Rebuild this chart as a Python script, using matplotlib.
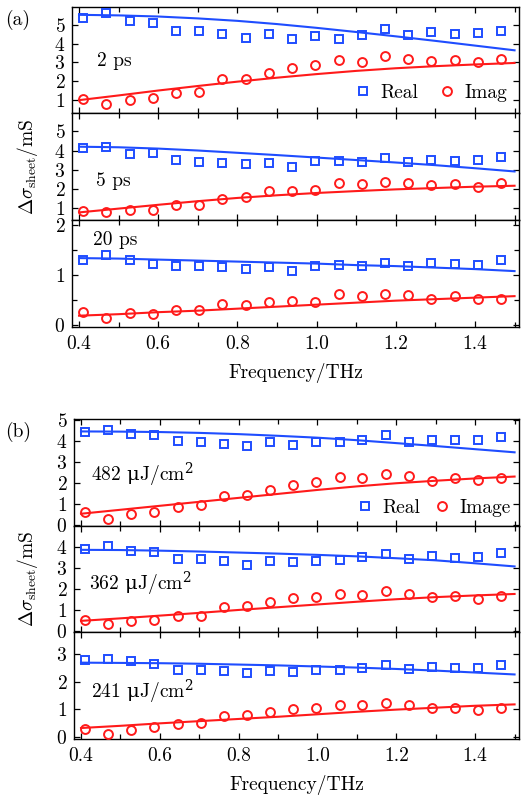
import matplotlib
matplotlib.use('Agg')
import matplotlib.pyplot as plt
from matplotlib.ticker import MultipleLocator, FixedLocator

plt.rcParams['font.family'] = ['cmr10', 'DejaVu Serif']
plt.rcParams['mathtext.fontset'] = 'cm'
plt.rcParams['axes.formatter.use_mathtext'] = True

# ---------------- data ----------------
freq = [0.411, 0.469, 0.528, 0.586, 0.645, 0.704, 0.762, 0.821, 0.880, 0.938,
        0.997, 1.056, 1.114, 1.173, 1.231, 1.290, 1.349, 1.407, 1.466]
fit_freq = [0.4, 0.5, 0.6, 0.7, 0.8, 0.9, 1.0, 1.1, 1.2, 1.3, 1.4, 1.5]

# (a) different delay times
a_labels = ['2 ps', '5 ps', '20 ps']
a_real = [
    [5.36, 5.59, 5.18, 5.09, 4.64, 4.68, 4.52, 4.27, 4.48, 4.25,
     4.38, 4.24, 4.43, 4.77, 4.45, 4.61, 4.50, 4.54, 4.68],
    [4.13, 4.20, 3.82, 3.87, 3.52, 3.42, 3.35, 3.28, 3.35, 3.16,
     3.45, 3.43, 3.40, 3.59, 3.42, 3.50, 3.43, 3.50, 3.64],
    [1.30, 1.40, 1.31, 1.23, 1.18, 1.18, 1.16, 1.12, 1.16, 1.09,
     1.19, 1.21, 1.18, 1.25, 1.19, 1.24, 1.23, 1.21, 1.30],
]
a_imag = [
    [1.05, 0.80, 1.00, 1.10, 1.40, 1.45, 2.10, 2.10, 2.45, 2.70,
     2.85, 3.15, 3.00, 3.35, 3.20, 3.05, 3.15, 3.00, 3.20],
    [0.83, 0.79, 0.86, 0.86, 1.14, 1.14, 1.47, 1.56, 1.87, 1.89,
     1.94, 2.32, 2.23, 2.36, 2.30, 2.17, 2.22, 2.06, 2.27],
    [0.27, 0.14, 0.25, 0.23, 0.30, 0.31, 0.43, 0.40, 0.47, 0.49,
     0.47, 0.62, 0.58, 0.62, 0.60, 0.53, 0.58, 0.52, 0.53],
]
a_fit_real = [
    [5.52, 5.49, 5.43, 5.33, 5.20, 5.03, 4.83, 4.61, 4.38, 4.14, 3.89, 3.64],
    [4.20, 4.17, 4.10, 4.00, 3.88, 3.76, 3.63, 3.50, 3.37, 3.23, 3.07, 2.90],
    [1.34, 1.33, 1.31, 1.29, 1.27, 1.25, 1.23, 1.20, 1.18, 1.15, 1.12, 1.08],
]
a_fit_imag = [
    [1.00, 1.25, 1.51, 1.75, 1.98, 2.19, 2.38, 2.55, 2.69, 2.80, 2.89, 2.97],
    [0.75, 0.95, 1.15, 1.34, 1.51, 1.65, 1.77, 1.87, 1.96, 2.03, 2.10, 2.15],
    [0.19, 0.22, 0.26, 0.29, 0.33, 0.37, 0.41, 0.45, 0.49, 0.52, 0.55, 0.58],
]

# (b) different pump fluences
b_labels = [r'482 $\mathrm{\mu}$J/cm$^{2}$', r'362 $\mathrm{\mu}$J/cm$^{2}$',
            r'241 $\mathrm{\mu}$J/cm$^{2}$']
b_real = [
    [4.42, 4.55, 4.37, 4.29, 3.99, 3.98, 3.88, 3.75, 3.94, 3.83,
     3.96, 3.96, 4.08, 4.31, 3.98, 4.04, 4.08, 4.08, 4.21],
    [3.94, 4.08, 3.83, 3.77, 3.46, 3.42, 3.37, 3.18, 3.37, 3.28,
     3.37, 3.40, 3.54, 3.69, 3.46, 3.57, 3.51, 3.54, 3.71],
    [2.79, 2.82, 2.77, 2.65, 2.45, 2.45, 2.41, 2.33, 2.41, 2.36,
     2.43, 2.45, 2.52, 2.60, 2.48, 2.55, 2.52, 2.52, 2.60],
]
b_imag = [
    [0.59, 0.30, 0.50, 0.61, 0.87, 0.94, 1.37, 1.44, 1.68, 1.91,
     2.03, 2.31, 2.24, 2.43, 2.34, 2.11, 2.24, 2.15, 2.26],
    [0.55, 0.35, 0.51, 0.55, 0.74, 0.71, 1.17, 1.23, 1.38, 1.57,
     1.63, 1.80, 1.74, 1.92, 1.80, 1.62, 1.68, 1.55, 1.68],
    [0.30, 0.12, 0.24, 0.34, 0.45, 0.51, 0.74, 0.78, 0.90, 1.00,
     1.04, 1.15, 1.14, 1.23, 1.15, 1.04, 1.06, 0.98, 1.06],
]
b_fit_real = [
    [4.47, 4.46, 4.44, 4.40, 4.34, 4.26, 4.17, 4.05, 3.91, 3.77, 3.62, 3.47],
    [3.88, 3.87, 3.84, 3.80, 3.75, 3.70, 3.64, 3.57, 3.48, 3.38, 3.24, 3.09],
    [2.70, 2.69, 2.68, 2.66, 2.63, 2.60, 2.56, 2.52, 2.47, 2.41, 2.34, 2.27],
]
b_fit_imag = [
    [0.53, 0.72, 0.91, 1.10, 1.29, 1.48, 1.67, 1.84, 1.99, 2.11, 2.22, 2.31],
    [0.50, 0.62, 0.75, 0.88, 1.02, 1.15, 1.28, 1.41, 1.53, 1.63, 1.71, 1.78],
    [0.32, 0.40, 0.49, 0.57, 0.65, 0.73, 0.82, 0.91, 0.99, 1.06, 1.13, 1.18],
]

# ---------------- styling ----------------
BLUE = '#1f4dff'
RED = '#ff1a1a'
FS = 14

W, H = 529, 802
fig = plt.figure(figsize=(W / 100, H / 100), dpi=100)


def make_axes(left_px, right_px, top_px, bottom_px, n=3):
    h = (bottom_px - top_px) / n
    axes = []
    for i in range(n):
        t = top_px + i * h
        ax = fig.add_axes([left_px / W, 1 - (t + h) / H,
                           (right_px - left_px) / W, h / H])
        axes.append(ax)
    return axes


def style(ax, show_xlabels):
    ax.set_xlim(0.383, 1.512)
    ax.xaxis.set_major_locator(MultipleLocator(0.2))
    ax.xaxis.set_minor_locator(MultipleLocator(0.1))
    ax.tick_params(which='both', direction='in', top=True, right=True,
                   labelsize=FS, width=0.9)
    ax.tick_params(which='major', length=4.5)
    ax.tick_params(which='minor', length=3.5)
    ax.tick_params(axis='x', which='major', pad=6)
    ax.tick_params(axis='y', which='major', pad=5)
    if not show_xlabels:
        ax.tick_params(axis='x', labelbottom=False)
    else:
        ax.xaxis.set_major_formatter(plt.FuncFormatter(lambda v, p: f'{v:.1f}'))
    for s in ax.spines.values():
        s.set_linewidth(1.0)


def draw(ax, real, imag, freal, fimag):
    ax.plot(fit_freq, freal, '-', color=BLUE, lw=1.5, zorder=2)
    ax.plot(fit_freq, fimag, '-', color=RED, lw=1.5, zorder=2)
    hr, = ax.plot(freq, real, 's', mfc='none', mec=BLUE, ms=5.6, mew=1.4,
                  zorder=3)
    hi, = ax.plot(freq, imag, 'o', mfc='none', mec=RED, ms=6.4, mew=1.4,
                  zorder=3)
    return hr, hi


# ----- group (a) -----
axa = make_axes(72.3, 519.3, 6.7, 326.7)
ylims_a = [(0.3, 5.95), (0.35, 5.95), (-0.03, 2.1)]
yticks_a = [[1, 2, 3, 4, 5], [1, 2, 3, 4, 5], [0, 1, 2]]
text_pos_a = [(0.445, 3.05), (0.443, 2.41), (0.435, 1.70)]
for i, ax in enumerate(axa):
    hr, hi = draw(ax, a_real[i], a_imag[i], a_fit_real[i], a_fit_imag[i])
    style(ax, i == 2)
    ax.set_ylim(*ylims_a[i])
    ax.yaxis.set_major_locator(FixedLocator(yticks_a[i]))
    if i == 2:
        ax.yaxis.set_minor_locator(MultipleLocator(0.5))
    else:
        ax.yaxis.set_minor_locator(FixedLocator([]))
    ax.text(*text_pos_a[i], a_labels[i], fontsize=FS, ha='left', va='center')
    if i == 0:
        ax.legend([hr, hi], ['Real', 'Imag'], loc='lower right', ncol=2,
                  frameon=False, fontsize=FS, handlelength=0.8,
                  handletextpad=0.5, columnspacing=1.1,
                  borderaxespad=0.2)
axa[2].set_xlabel('Frequency/THz', fontsize=FS, labelpad=7)

# ----- group (b) -----
axb = make_axes(74.3, 519.3, 419.3, 739.0)
ylims_b = [(-0.05, 5.05), (-0.05, 5.02), (-0.08, 3.8)]
yticks_b = [[0, 1, 2, 3, 4, 5], [0, 1, 2, 3, 4], [0, 1, 2, 3]]
text_pos_b = [(0.426, 2.40), (0.421, 2.27), (0.426, 1.65)]
for i, ax in enumerate(axb):
    hr, hi = draw(ax, b_real[i], b_imag[i], b_fit_real[i], b_fit_imag[i])
    style(ax, i == 2)
    ax.set_ylim(*ylims_b[i])
    ax.yaxis.set_major_locator(FixedLocator(yticks_b[i]))
    ax.yaxis.set_minor_locator(FixedLocator([]))
    ax.text(*text_pos_b[i], b_labels[i], fontsize=FS, ha='left', va='center',
            math_fontfamily='dejavuserif')
    if i == 0:
        ax.legend([hr, hi], ['Real', 'Image'], loc='lower right', ncol=2,
                  frameon=False, fontsize=FS, handlelength=0.8,
                  handletextpad=0.5, columnspacing=0.7,
                  borderaxespad=0.05)
axb[2].set_xlabel('Frequency/THz', fontsize=FS, labelpad=7)

ylab = r'$\Delta\sigma_{\mathrm{sheet}}/\mathrm{mS}$'
fig.text(28 / W, 1 - 166.7 / H, ylab, fontsize=FS, rotation=90,
         ha='center', va='center')
fig.text(28 / W, 1 - 579 / H, ylab, fontsize=FS, rotation=90,
         ha='center', va='center')
fig.text(18 / W, 1 - 20 / H, '(a)', fontsize=FS, ha='center', va='center')
fig.text(18 / W, 1 - 432 / H, '(b)', fontsize=FS, ha='center', va='center')

fig.savefig('out.png', dpi=100)
